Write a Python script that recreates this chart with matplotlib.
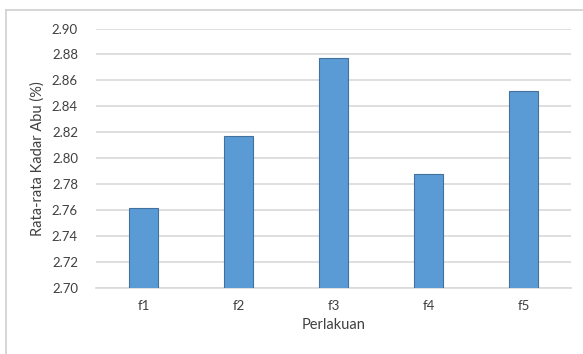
import matplotlib.pyplot as plt
from matplotlib.lines import Line2D

plt.rcParams['font.family'] = ['Lato', 'DejaVu Sans']

perlakuan = ['f1', 'f2', 'f3', 'f4', 'f5']
kadar_abu = [2.762, 2.817, 2.877, 2.788, 2.852]
yticks = [2.70, 2.72, 2.74, 2.76, 2.78, 2.80, 2.82, 2.84, 2.86, 2.88, 2.90]

W, H = 583, 354
fig = plt.figure(figsize=(W / 100, H / 100), dpi=100)
ax = fig.add_axes([96 / W, 1 - 288 / H, (571 - 96) / W, (288 - 28.5) / H])

ax.bar(perlakuan, kadar_abu, width=0.31, bottom=0, color='#5b9bd5',
       edgecolor='#41719c', linewidth=0.8, zorder=3)
ax.set_ylim(2.70, 2.90)
ax.set_xlim(-0.5, 4.5)
ax.set_yticks(yticks)
ax.set_yticklabels([f'{v:.2f}' for v in yticks])
ax.yaxis.grid(True, color='#d9d9d9', linewidth=1.2, zorder=0)
for s in ['top', 'right', 'left']:
    ax.spines[s].set_visible(False)
ax.spines['bottom'].set_color('#d9d9d9')
ax.spines['bottom'].set_linewidth(1.2)
ax.tick_params(axis='both', length=0, labelsize=9.5, labelcolor='#404040')
ax.tick_params(axis='y', pad=13)
ax.tick_params(axis='x', pad=9)

ax.set_xlabel('Perlakuan', fontsize=10.5, color='#404040', labelpad=4)
ax.set_ylabel('Rata-rata Kadar Abu (%)', fontsize=10.5, color='#404040', labelpad=5)

# chart area border (Excel-like frame, cropped on right/bottom)
fig.add_artist(Line2D([5.5 / W, 5.5 / W], [0, 1 - 10 / H], transform=fig.transFigure,
                      color='#d0d0d0', linewidth=1.2))
fig.add_artist(Line2D([5.5 / W, 1], [1 - 10 / H, 1 - 10 / H], transform=fig.transFigure,
                      color='#d0d0d0', linewidth=1.2))

fig.savefig('out.png', dpi=100)
